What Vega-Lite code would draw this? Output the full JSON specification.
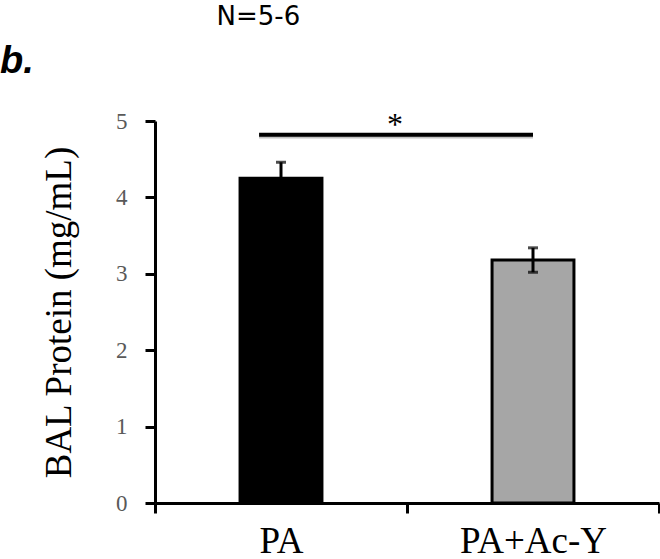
{
  "$schema": "https://vega.github.io/schema/vega-lite/v6.json",
  "autosize": "none",
  "width": 504,
  "height": 382,
  "padding": {"left": 155, "top": 121, "right": 1, "bottom": 56},
  "background": "white",
  "config": {
    "view": {"stroke": null},
    "axis": {"grid": false}
  },
  "data": {
    "values": [
      {"group": "PA", "mean": 4.25, "lo": 4.04, "hi": 4.46},
      {"group": "PA+Ac-Y", "mean": 3.18, "lo": 3.02, "hi": 3.34}
    ]
  },
  "layer": [
    {
      "mark": {"type": "bar", "stroke": "black", "strokeWidth": 3, "width": {"band": 0.325}},
      "encoding": {
        "x": {
          "field": "group",
          "type": "nominal",
          "sort": ["PA", "PA+Ac-Y"],
          "scale": {"paddingInner": 0, "paddingOuter": 0},
          "axis": {
            "title": null,
            "labelAngle": 0,
            "labelFont": "Liberation Serif",
            "labelFontSize": 37,
            "labelColor": "black",
            "labelPadding": 10,
            "domainColor": "black",
            "domainWidth": 3,
            "ticks": true,
            "tickColor": "black",
            "tickWidth": 3,
            "tickOpacity": 1,
            "tickSize": 10,
            "tickBand": "extent"
          }
        },
        "y": {
          "field": "mean",
          "type": "quantitative",
          "scale": {"domain": [0, 5], "nice": false},
          "axis": {
            "title": "BAL Protein (mg/mL)",
            "titleFont": "Liberation Serif",
            "titleFontSize": 37,
            "titleFontWeight": "normal",
            "titleColor": "black",
            "titlePadding": 37,
            "values": [0, 1, 2, 3, 4, 5],
            "format": "d",
            "labelFont": "Liberation Serif",
            "labelFontSize": 23,
            "labelColor": "#595959",
            "labelPadding": 18,
            "domainColor": "black",
            "domainWidth": 3,
            "ticks": true,
            "tickColor": "black",
            "tickWidth": 3,
            "tickOpacity": 1,
            "tickSize": 10
          }
        },
        "color": {
          "field": "group",
          "type": "nominal",
          "scale": {"domain": ["PA", "PA+Ac-Y"], "range": ["#000000", "#a6a6a6"]},
          "legend": null
        }
      }
    },
    {
      "mark": {"type": "rule", "color": "black", "strokeWidth": 3},
      "encoding": {
        "x": {"field": "group", "type": "nominal", "sort": ["PA", "PA+Ac-Y"]},
        "y": {"field": "lo", "type": "quantitative"},
        "y2": {"field": "hi"}
      }
    },
    {
      "mark": {"type": "tick", "color": "black", "size": 10, "thickness": 3},
      "encoding": {
        "x": {"field": "group", "type": "nominal", "sort": ["PA", "PA+Ac-Y"]},
        "y": {"field": "hi", "type": "quantitative"}
      }
    },
    {
      "mark": {"type": "tick", "color": "black", "size": 10, "thickness": 3},
      "encoding": {
        "x": {"field": "group", "type": "nominal", "sort": ["PA", "PA+Ac-Y"]},
        "y": {"field": "lo", "type": "quantitative"}
      }
    },
    {
      "data": {"values": [{"y": 4.79}]},
      "mark": {"type": "rule", "color": "#9a9a9a", "strokeWidth": 3, "opacity": 0.6},
      "encoding": {
        "x": {"datum": "PA", "type": "nominal", "bandPosition": 0.413},
        "x2": {"datum": "PA+Ac-Y"},
        "y": {"field": "y", "type": "quantitative"}
      }
    },
    {
      "data": {"values": [{"y": 4.82}]},
      "mark": {"type": "rule", "color": "black", "strokeWidth": 4},
      "encoding": {
        "x": {"datum": "PA", "type": "nominal", "bandPosition": 0.413},
        "x2": {"datum": "PA+Ac-Y"},
        "y": {"field": "y", "type": "quantitative"}
      }
    },
    {
      "data": {"values": [{"label": "*", "g": "PA", "y": 4.82}]},
      "mark": {"type": "text", "font": "Liberation Serif", "fontSize": 32, "baseline": "alphabetic", "align": "center", "color": "black"},
      "encoding": {
        "x": {"field": "g", "type": "nominal", "bandPosition": 0.952},
        "y": {"field": "y", "type": "quantitative"},
        "text": {"field": "label"}
      }
    },
    {
      "data": {"values": [{"label": "N=5-6", "g": "PA", "y": 6.26}]},
      "mark": {"type": "text", "font": "DejaVu Sans", "fontSize": 26, "baseline": "alphabetic", "align": "center", "color": "black"},
      "encoding": {
        "x": {"field": "g", "type": "nominal", "bandPosition": 0.41},
        "y": {"field": "y", "type": "quantitative"},
        "text": {"field": "label"}
      }
    },
    {
      "data": {"values": [{"label": "b.", "g": "PA", "y": 5.63}]},
      "mark": {"type": "text", "font": "Liberation Sans", "fontSize": 38, "fontStyle": "italic", "fontWeight": "bold", "baseline": "alphabetic", "align": "left", "color": "black", "dx": -155},
      "encoding": {
        "x": {"field": "g", "type": "nominal", "bandPosition": 0},
        "y": {"field": "y", "type": "quantitative"},
        "text": {"field": "label"}
      }
    }
  ]
}
